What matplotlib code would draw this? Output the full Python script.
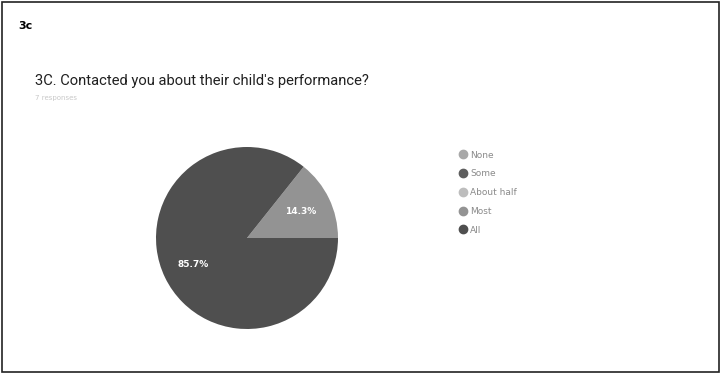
import matplotlib.pyplot as plt
from matplotlib.lines import Line2D
from matplotlib.patches import Rectangle

# survey answers (7 responses)
categories = ['None', 'Some', 'About half', 'Most', 'All']
shares = [0.0, 0.0, 0.0, 14.3, 85.7]
colors = ['#a8a8a8', '#5e5e5e', '#bdbdbd', '#939393', '#4f4f4f']

W, H = 722, 373
fig = plt.figure(figsize=(W / 100, H / 100), dpi=100)
fig.patch.set_facecolor('white')

# outer frame of the card
fig.patches.append(Rectangle((2 / W, 1 / H), 717 / W, 370 / H, transform=fig.transFigure,
                             fill=False, edgecolor='#222222', linewidth=1.2))

fig.text(18 / W, 1 - 26 / H, '3c', fontsize=8, fontweight='bold', va='center', ha='left')
fig.text(35 / W, 1 - 81 / H, "3C. Contacted you about their child's performance?",
         fontsize=10.6, va='center', ha='left', color='#202020', family='Roboto')
fig.text(35 / W, 1 - 98 / H, '7 responses', fontsize=5, va='center', ha='left', color='#c8c8c8')

# pie, only the answers that were picked
vals = [v for v in shares if v > 0]
cols = [c for v, c in zip(shares, colors) if v > 0]
cx, cy, r = 247, 238, 91
ax = fig.add_axes([(cx - r) / W, 1 - (cy + r) / H, 2 * r / W, 2 * r / H])
wedges, texts, autotexts = ax.pie(vals, colors=cols, startangle=0, counterclock=True,
                                  autopct='%.1f%%', pctdistance=0.66, radius=1,
                                  wedgeprops=dict(linewidth=0),
                                  textprops=dict(color='white', fontsize=6.5, fontweight='bold'))
ax.set_xlim(-1, 1)
ax.set_ylim(-1, 1)
ax.set_aspect('equal')
ax.axis('off')

# legend
handles = [Line2D([], [], marker='o', linestyle='', markersize=6, markerfacecolor=c,
                  markeredgecolor=c) for c in colors]
leg = fig.legend(handles, categories, loc='upper left', bbox_to_anchor=(454 / W, 1 - 146 / H),
                 frameon=False, fontsize=6.5, handletextpad=0.3, labelspacing=1.08,
                 handlelength=1.0, borderpad=0)
for t in leg.get_texts():
    t.set_color('#8a8a8a')

fig.savefig('out.png', dpi=100)
